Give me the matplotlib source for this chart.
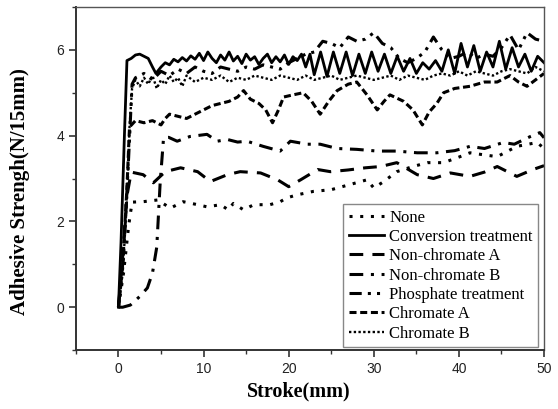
import matplotlib
matplotlib.use("Agg")
import matplotlib.pyplot as plt
from matplotlib.ticker import MultipleLocator

# --- data ---
none_x = [0, 0.6, 1.2, 1.6, 2.9, 4.6, 6.1, 7.6, 9.3, 10.4, 12, 12.9, 13.5, 14.7, 15.9, 17.8, 19, 19.8,
          21, 22.9, 25, 27.2, 29.2, 30, 31.1, 32.7, 34.6, 36.3, 38.2, 40, 41.3, 43, 44.5, 46.8, 49.2, 50]
none_y = [0, 0.8, 1.9, 2.45, 2.46, 2.5, 2.31, 2.46, 2.39, 2.34, 2.39, 2.27, 2.42, 2.27, 2.39, 2.39, 2.46, 2.55,
          2.62, 2.7, 2.74, 2.86, 2.97, 2.78, 2.92, 3.16, 3.28, 3.37, 3.37, 3.5, 3.6, 3.55, 3.51, 3.75, 3.84, 3.7]

conv_x = [0, 0.3, 0.7, 1.0, 1.5, 2.0, 2.5, 3.0, 3.5, 4.0, 4.4, 5.0, 5.5, 6.0, 6.5, 7.0, 7.5, 8.0, 8.5, 9.0,
          9.5, 10, 10.5, 11, 11.5, 12, 12.5, 13, 13.5, 14, 14.5, 15, 15.5, 16, 16.5, 17, 17.5, 18, 18.5, 19,
          19.5, 20, 20.5, 21, 21.5, 22, 22.5, 23, 23.75, 24.5, 25.25, 26, 26.75, 27.5, 28.25, 29, 29.75, 30.5,
          31.25, 32, 32.75, 33.5, 34.25, 35, 35.75, 36.5, 37.25, 38, 38.75, 39.5, 40.25, 41, 41.75, 42.5,
          43.25, 44, 44.75, 45.5, 46.25, 47, 47.75, 48.5, 49.25, 50]
conv_y = [0, 1.5, 4.0, 5.75, 5.8, 5.88, 5.9, 5.85, 5.8, 5.6, 5.45, 5.6, 5.7, 5.65, 5.78, 5.72, 5.82, 5.74, 5.86, 5.78,
          5.92, 5.75, 5.95, 5.8, 5.7, 5.88, 5.76, 5.95, 5.74, 5.85, 5.68, 5.9, 5.76, 5.84, 5.66, 5.8, 5.9, 5.7, 5.84, 5.72,
          5.88, 5.66, 5.84, 5.75, 5.9, 5.6, 5.9, 5.42, 5.95, 5.38, 5.95, 5.45, 5.95, 5.4, 5.9, 5.45, 5.95, 5.5,
          5.9, 5.45, 5.85, 5.5, 5.8, 5.45, 5.7, 5.55, 5.75, 5.5, 6.0, 5.45, 6.15, 5.6, 6.1, 5.5,
          5.95, 5.6, 6.2, 5.55, 6.05, 5.6, 5.9, 5.5, 5.85, 5.7]

nca_x = [0, 0.5, 1.0, 1.5, 2.9, 4.1, 5.5, 7.3, 9.3, 10.8, 12.8, 14.3, 16.7, 18.7, 20, 21.4, 23.4, 24.9,
         27, 29, 30.8, 32.7, 35.1, 37, 39, 41.3, 43, 44.5, 46.8, 48.7, 50]
nca_y = [0, 1.2, 2.6, 3.15, 3.09, 2.9, 3.16, 3.25, 3.16, 2.93, 3.09, 3.16, 3.13, 2.97, 2.81, 2.97, 3.21, 3.16,
         3.2, 3.25, 3.28, 3.37, 3.09, 3.0, 3.13, 3.05, 3.15, 3.28, 3.05, 3.21, 3.3]

ncb_x = [0, 0.5, 1.4, 2.5, 3.4, 4.0, 4.5, 4.9, 5.3, 5.9, 6.9, 8.4, 10.4, 11.6, 12.8, 14, 15.1, 17, 19, 20.2,
         22.2, 23.7, 25.7, 28, 30.4, 32.7, 35.1, 37.4, 39.5, 41.3, 43, 45.2, 46.5, 48.4, 49.5, 50]
ncb_y = [0, 0.0, 0.05, 0.25, 0.45, 0.8, 1.4, 2.9, 3.95, 3.96, 3.87, 3.98, 4.03, 3.87, 3.91, 3.85, 3.87, 3.75, 3.64,
         3.87, 3.8, 3.8, 3.7, 3.68, 3.64, 3.64, 3.6, 3.6, 3.65, 3.75, 3.7, 3.84, 3.8, 3.98, 4.07, 3.95]

phos_x = [0, 0.6, 1.2, 1.6, 2, 3, 4, 5, 6, 7, 8, 9, 10, 11, 12, 13, 14, 15, 16, 17, 18, 19, 20, 21, 22, 23,
          24, 25, 26, 27, 28, 29, 30, 31, 32, 33, 34, 35, 36, 37, 38, 39, 40, 41, 42, 43, 44, 45, 46, 47,
          48, 49, 50]
phos_y = [0, 1.2, 3.5, 5.2, 5.35, 5.45, 5.3, 5.5, 5.4, 5.55, 5.45, 5.6, 5.5, 5.45, 5.6, 5.55, 5.5, 5.6, 5.55,
          5.65, 5.6, 5.55, 5.7, 5.8, 5.9, 5.95, 6.2, 6.15, 6.05, 6.3, 6.2, 6.25, 6.4, 6.15, 6.05, 5.8, 5.7, 5.8,
          5.95, 6.3, 6.0, 5.8, 5.85, 5.95, 5.8, 5.9, 5.85, 6.05, 6.35, 6.0, 6.4, 6.25, 6.2]

cra_x = [0, 0.5, 1.0, 1.3, 2, 3, 4, 5, 5.5, 6, 7, 8, 9, 10, 11, 12, 13, 14, 14.7, 15.5, 16.5, 17.3, 18.1,
         18.8, 19.4, 20.5, 21.7, 22.7, 23.7, 24.7, 25.7, 27, 28, 29.2, 30.4, 31.2, 31.9, 33.5, 34.6, 35.7,
         36.5, 37.4, 38.2, 39.5, 41.3, 43, 44.5, 46, 47, 48, 49, 50]
cra_y = [0, 1.0, 2.8, 4.2, 4.35, 4.3, 4.35, 4.25, 4.4, 4.5, 4.45, 4.4, 4.5, 4.6, 4.7, 4.75, 4.8, 4.9, 5.05,
         4.85, 4.75, 4.6, 4.3, 4.6, 4.9, 4.95, 5.0, 4.8, 4.5, 4.8, 5.05, 5.2, 5.25, 4.95, 4.6, 4.8, 4.95, 4.8,
         4.6, 4.25, 4.55, 4.75, 5.0, 5.1, 5.15, 5.25, 5.25, 5.4, 5.25, 5.15, 5.3, 5.45]

crb_x = [0, 0.5, 1.0, 1.3, 1.6, 2, 2.5, 3, 3.5, 4, 4.5, 5, 5.5, 6, 6.5, 7, 7.5, 8, 9, 10, 11, 12, 13, 14,
         15, 16, 17, 18, 19, 20, 21, 22, 23, 24, 25, 26, 27, 28, 29, 30, 31, 32, 33, 34, 35, 36, 37, 38,
         39, 40, 41, 42, 43, 44, 45, 46, 47, 48, 49, 50]
crb_y = [0, 0.8, 2.5, 4.2, 5.1, 5.3, 5.15, 5.35, 5.2, 5.4, 5.1, 5.3, 5.2, 5.4, 5.25, 5.35, 5.15, 5.4, 5.25,
         5.35, 5.3, 5.4, 5.25, 5.35, 5.3, 5.4, 5.35, 5.3, 5.4, 5.35, 5.3, 5.4, 5.3, 5.35, 5.4, 5.3, 5.35, 5.4,
         5.35, 5.3, 5.35, 5.4, 5.3, 5.4, 5.35, 5.3, 5.4, 5.45, 5.4, 5.5, 5.4, 5.5, 5.45, 5.4, 5.5, 5.55, 5.5,
         5.45, 5.6, 5.5]

labels = ["None", "Conversion treatment", "Non-chromate A", "Non-chromate B",
          "Phosphate treatment", "Chromate A", "Chromate B"]

# --- figure ---
fig = plt.figure(figsize=(5.58, 4.09), dpi=100)
ax = fig.add_axes([0.136, 0.144, 0.839, 0.839])

ax.plot(none_x, none_y, color="k", lw=2.2, ls=(0, (1, 2.5)), label=labels[0])
ax.plot(conv_x, conv_y, color="k", lw=2.0, ls="-", label=labels[1])
ax.plot(nca_x, nca_y, color="k", lw=2.2, ls=(0, (4.5, 3)), label=labels[2])
ax.plot(ncb_x, ncb_y, color="k", lw=2.2, ls=(0, (4.5, 2.5, 1, 2.5)), label=labels[3])
ax.plot(phos_x, phos_y, color="k", lw=2.2, ls=(0, (4, 2, 1, 2, 1, 2)), label=labels[4])
ax.plot(cra_x, cra_y, color="k", lw=2.2, ls=(0, (2.3, 1.2)), label=labels[5])
ax.plot(crb_x, crb_y, color="k", lw=1.7, ls=(0, (1, 1)), label=labels[6])

ax.set_xlim(-5, 50)
ax.set_ylim(-1, 7)
ax.xaxis.set_major_locator(MultipleLocator(10))
ax.xaxis.set_minor_locator(MultipleLocator(5))
ax.yaxis.set_major_locator(MultipleLocator(2))
ax.yaxis.set_minor_locator(MultipleLocator(1))
ax.tick_params(which="both", direction="out", top=False, right=False, colors="#333",
               labelcolor="#222", labelsize=10)
ax.tick_params(which="major", length=5, width=1.2)
ax.tick_params(which="minor", length=3, width=1.0)
ax.set_yticks([0, 2, 4, 6])
for t in ax.get_xticklabels() + ax.get_yticklabels():
    t.set_family(["Liberation Sans", "DejaVu Sans"])
for s in ["left", "bottom"]:
    ax.spines[s].set_linewidth(1.4)
    ax.spines[s].set_color("#333")
for s in ["top", "right"]:
    ax.spines[s].set_linewidth(1.0)
    ax.spines[s].set_color("#555")

serif = ["Liberation Serif", "DejaVu Serif"]
ax.set_xlabel("Stroke(mm)", fontsize=14.5, fontweight="bold", family=serif)
ax.set_ylabel("Adhesive Strengh(N/15mm)", fontsize=15, fontweight="bold", family=serif)
ax.xaxis.set_label_coords(0.475, -0.092)
ax.yaxis.set_label_coords(-0.098, 0.462)

leg = ax.legend(loc="lower right", bbox_to_anchor=(0.988, 0.008), borderaxespad=0,
                prop={"family": serif, "size": 12}, handlelength=2.1, handletextpad=0.3,
                labelspacing=0.2, borderpad=0.35, fancybox=False, framealpha=1)
leg.get_frame().set_edgecolor("#888")
leg.get_frame().set_linewidth(1.0)

fig.savefig("out.png", dpi=100)
